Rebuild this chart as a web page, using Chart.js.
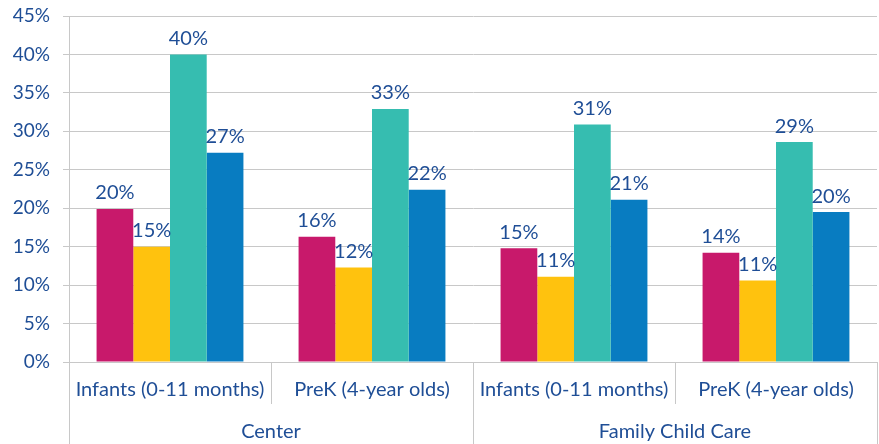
<!DOCTYPE html>
<html>
<head>
<meta charset="utf-8">
<script src="https://cdn.jsdelivr.net/npm/chart.js@4"></script>
<style>
  html, body { margin: 0; padding: 0; background: #fff; }
  #wrap { width: 879px; height: 444px; }
</style>
</head>
<body>
<div id="wrap"><canvas id="chart"></canvas></div>
<script>
var categories = ["Infants (0-11 months)", "PreK (4-year olds)", "Infants (0-11 months)", "PreK (4-year olds)"];
var groups = ["Center", "Family Child Care"];
var series1 = [19.9, 16.3, 14.8, 14.2];
var series2 = [15.0, 12.3, 11.1, 10.6];
var series3 = [40.0, 32.9, 30.9, 28.6];
var series4 = [27.2, 22.4, 21.1, 19.5];
var colors = ["#C8196B", "#FFC20E", "#36BDB0", "#087CC1"];

var textBlue = "#1F4E96";
var gridGray = "#C8C8C8";
var fontFamily = "Lato, 'Open Sans', sans-serif";

var barLabels = {
  id: "barLabels",
  afterDatasetsDraw: function (chart) {
    var ctx = chart.ctx;
    ctx.save();
    ctx.font = "20px " + fontFamily;
    ctx.fillStyle = textBlue;
    ctx.textAlign = "center";
    ctx.textBaseline = "bottom";
    chart.data.datasets.forEach(function (ds, i) {
      var meta = chart.getDatasetMeta(i);
      meta.data.forEach(function (bar, j) {
        ctx.fillText(Math.round(ds.data[j]) + "%", bar.x, bar.y - 6);
      });
    });
    ctx.restore();
  }
};

var groupAxis = {
  id: "groupAxis",
  afterDraw: function (chart) {
    var ctx = chart.ctx;
    var x = chart.scales.x;
    var area = chart.chartArea;
    var step = x.getPixelForValue(1) - x.getPixelForValue(0);
    ctx.save();
    ctx.strokeStyle = gridGray;
    ctx.lineWidth = 1;
    for (var i = 0; i <= categories.length; i++) {
      var px = Math.round(x.getPixelForValue(i) - step / 2) + 0.5;
      var bottom = (i % 2 === 0) ? chart.height : area.bottom + 42;
      ctx.beginPath();
      ctx.moveTo(px, area.bottom);
      ctx.lineTo(px, bottom);
      ctx.stroke();
    }
    ctx.font = "20px " + fontFamily;
    ctx.fillStyle = textBlue;
    ctx.textAlign = "center";
    ctx.textBaseline = "middle";
    groups.forEach(function (g, k) {
      var cx = (x.getPixelForValue(k * 2) + x.getPixelForValue(k * 2 + 1)) / 2;
      ctx.fillText(g, cx, area.bottom + 70);
    });
    ctx.restore();
  }
};

function makeSet(name, data, color) {
  return {
    label: name,
    data: data,
    backgroundColor: color,
    borderWidth: 0,
    categoryPercentage: 0.727,
    barPercentage: 1.0
  };
}

new Chart(document.getElementById("chart"), {
  type: "bar",
  data: {
    labels: categories,
    datasets: [
      makeSet("Series 1", series1, colors[0]),
      makeSet("Series 2", series2, colors[1]),
      makeSet("Series 3", series3, colors[2]),
      makeSet("Series 4", series4, colors[3])
    ]
  },
  options: {
    responsive: true,
    maintainAspectRatio: false,
    animation: false,
    layout: { padding: { top: 16, right: 2, left: 0, bottom: 0 } },
    plugins: {
      legend: { display: false },
      tooltip: { enabled: false }
    },
    scales: {
      x: {
        grid: { display: false, drawOnChartArea: false, drawTicks: false },
        border: { display: true, color: gridGray },
        ticks: {
          color: textBlue,
          font: { family: fontFamily, size: 20 },
          padding: 16,
          maxRotation: 0
        },
        afterFit: function (scale) {
          scale.height = 82;
          scale.paddingLeft = 0;
          scale.paddingRight = 0;
        }
      },
      y: {
        min: 0,
        max: 45,
        grid: { color: gridGray, tickLength: 6 },
        border: { display: true, color: gridGray },
        ticks: {
          stepSize: 5,
          color: textBlue,
          font: { family: fontFamily, size: 19 },
          padding: 13,
          callback: function (v) { return v + "%"; }
        },
        afterFit: function (scale) {
          scale.width = 69;
          scale.paddingTop = 0;
          scale.paddingBottom = 0;
        }
      }
    }
  },
  plugins: [barLabels, groupAxis]
});
</script>
</body>
</html>
